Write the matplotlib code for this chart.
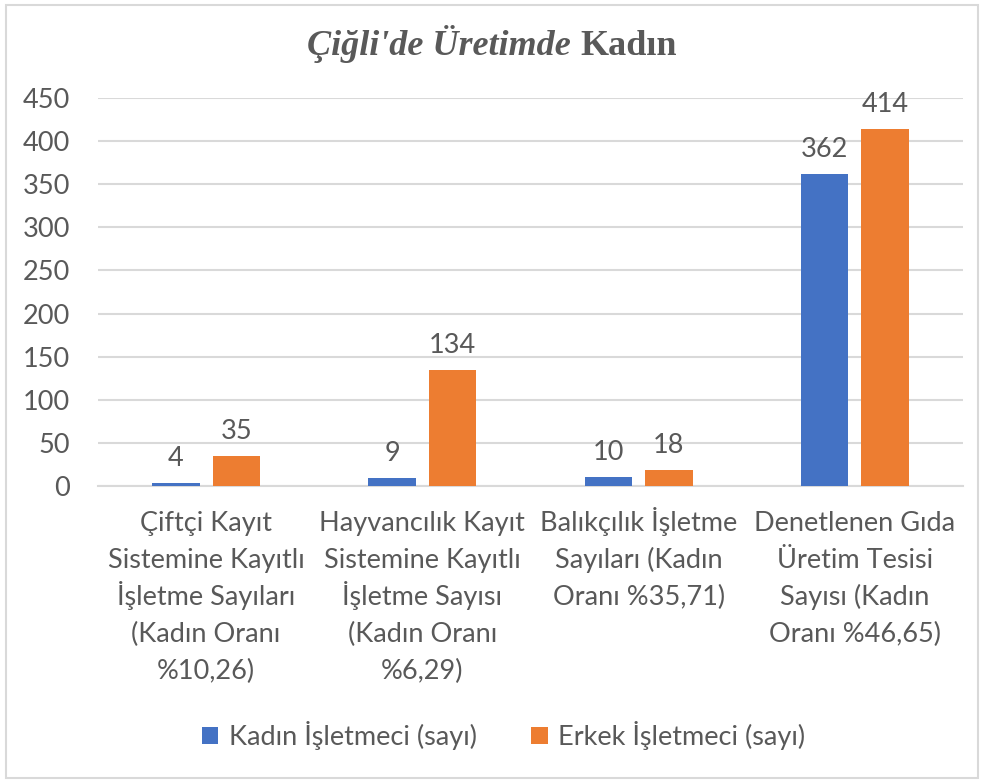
import matplotlib
matplotlib.use('Agg')
from matplotlib import pyplot as plt
from matplotlib.patches import Rectangle
import numpy as np

plt.rcParams['font.family'] = ['Lato', 'DejaVu Sans']

# veriler
kategoriler = ['Çiftçi Kayıt\nSistemine Kayıtlı\nİşletme Sayıları\n(Kadın Oranı\n%10,26)',
               'Hayvancılık Kayıt\nSistemine Kayıtlı\nİşletme Sayısı\n(Kadın Oranı\n%6,29)',
               'Balıkçılık İşletme\nSayıları (Kadın\nOranı %35,71)',
               'Denetlenen Gıda\nÜretim Tesisi\nSayısı (Kadın\nOranı %46,65)']
kadin = [4, 9, 10, 362]
erkek = [35, 134, 18, 414]
seri_adlari = ['Kadın İşletmeci (sayı)', 'Erkek İşletmeci (sayı)']
y_ticks = [0, 50, 100, 150, 200, 250, 300, 350, 400, 450]

mavi = '#4472C4'
turuncu = '#ED7D31'
yazi = '#595959'
izgara = '#D9D9D9'
fs = 19.5

fig = plt.figure(figsize=(9.84, 7.81), dpi=100)
ax = fig.add_axes([0.0996, 0.3777, 0.879, 0.4968])

x = np.arange(len(kategoriler))
w = 0.22
b1 = ax.bar(x - 0.14, kadin, w, color=mavi, label=seri_adlari[0], zorder=3)
b2 = ax.bar(x + 0.14, erkek, w, color=turuncu, label=seri_adlari[1], zorder=3)

for bars, vals in [(b1, kadin), (b2, erkek)]:
    for r, v in zip(bars, vals):
        ax.annotate(str(v), (r.get_x() + r.get_width() / 2, v), xytext=(0, 17),
                    textcoords='offset pixels', ha='center', va='baseline',
                    fontsize=fs, color=yazi)

ax.set_xlim(-0.5, 3.5)
ax.set_ylim(0, 450)
ax.set_yticks(y_ticks)
ax.set_xticks(x)
ax.set_xticklabels([])
ax.tick_params(axis='y', labelsize=fs, labelcolor=yazi, length=0, pad=20)
ax.tick_params(axis='x', length=0)
ax.grid(axis='y', color=izgara, linewidth=1.5, zorder=0)
for s in ['top', 'right', 'left']:
    ax.spines[s].set_visible(False)
ax.spines['bottom'].set_color(izgara)
ax.spines['bottom'].set_linewidth(1.5)

# kategori etiketleri satir satir (esit satir araligi icin)
for i, kat in enumerate(kategoriler):
    for k, satir in enumerate(kat.split('\n')):
        ax.annotate(satir, (i, 0), xycoords=('data', 'axes fraction'),
                    xytext=(0, -(45 + k * 37)), textcoords='offset pixels',
                    ha='center', va='baseline', fontsize=fs, color=yazi)

leg = fig.legend(loc='center', bbox_to_anchor=(0.512, 0.058), ncol=2, frameon=False,
                 fontsize=fs, handlelength=0.6, handleheight=0.6, handletextpad=0.4,
                 columnspacing=2.0)
for t in leg.get_texts():
    t.set_color(yazi)

# baslik: italik kisim + normal kalin kisim
t1 = fig.text(0.5, 0.93, "Çiğli'de Üretimde ", fontsize=26, family='Liberation Serif',
              style='italic', weight='bold', color=yazi, ha='left', va='baseline')
t2 = fig.text(0.5, 0.93, 'Kadın', fontsize=26, family='Liberation Serif',
              weight='bold', color=yazi, ha='left', va='baseline')
fig.canvas.draw()
r = fig.canvas.get_renderer()
e1 = t1.get_window_extent(r)
e2 = t2.get_window_extent(r)
toplam = e1.width + e2.width
x0 = (fig.bbox.width - toplam) / 2 / fig.bbox.width
t1.set_x(x0)
t2.set_x(x0 + e1.width / fig.bbox.width)

fig.patches.append(Rectangle((0.006, 0.004), 0.988, 0.99, transform=fig.transFigure,
                             fill=False, edgecolor=izgara, linewidth=1.5))

fig.savefig('out.png', dpi=100)
